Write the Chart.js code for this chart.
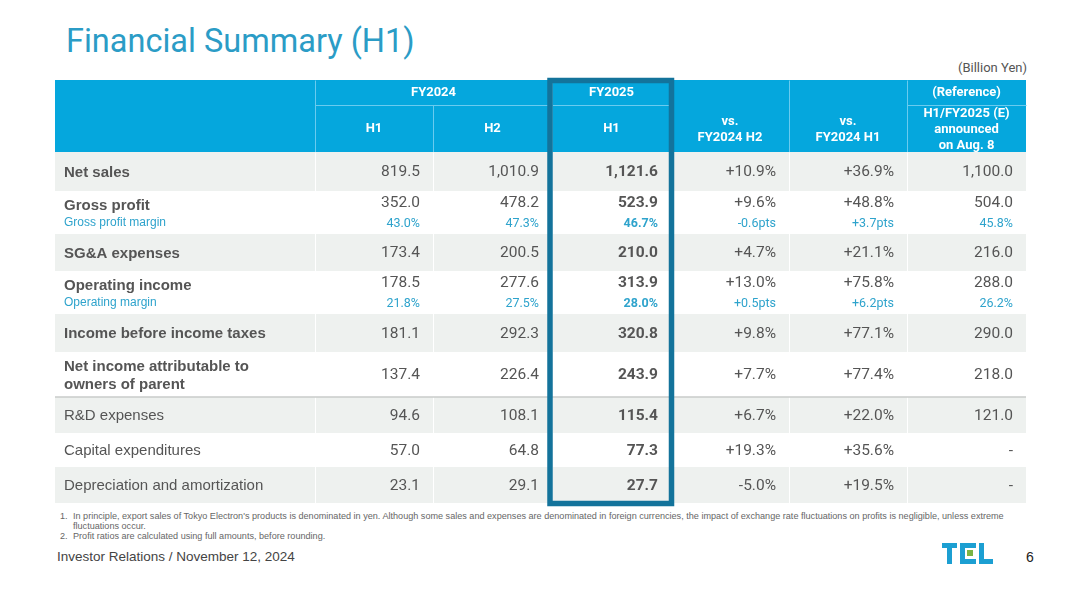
<!DOCTYPE html>
<html><head><meta charset="utf-8">
<script src="https://cdn.jsdelivr.net/npm/chart.js@4.4.1/dist/chart.umd.min.js"></script>
<style>
html,body{margin:0;padding:0;background:#fff;width:1080px;height:593px;overflow:hidden}
.abs{position:absolute;white-space:nowrap}
#title{left:66px;top:22px;font:32.5px Roboto,sans-serif;color:#2b9cc6}
#unit{right:53px;top:60px;font:13px Roboto,sans-serif;color:#555}
#notes{left:60px;top:511px;font:9.1px "Liberation Sans",Arial,sans-serif;color:#666;line-height:10px}
#notes .n{display:inline-block;width:13px}
#footer{left:57px;top:549px;font:13.5px "Liberation Sans",Arial,sans-serif;color:#444}
#page{left:1026px;top:549px;font:14px "Liberation Sans",Arial,sans-serif;color:#222}
#cv{position:absolute;left:52px;top:76px}
.lg{position:absolute;background:#1c9fd2}
</style></head>
<body>
<div id="title" class="abs">Financial Summary (H1)</div>
<div id="unit" class="abs">(Billion Yen)</div>
<canvas id="cv" width="978" height="434"></canvas>
<div id="notes" class="abs">
<div><span class="n">1.</span>In principle, export sales of Tokyo Electron's products is denominated in yen. Although some sales and expenses are denominated in foreign currencies, the impact of exchange rate fluctuations on profits is negligible, unless extreme</div>
<div><span class="n"></span>fluctuations occur.</div>
<div><span class="n">2.</span>Profit ratios are calculated using full amounts, before rounding.</div>
</div>
<div id="footer" class="abs">Investor Relations / November 12, 2024</div>
<div id="page" class="abs">6</div>
<!-- TEL logo -->
<div class="lg" style="left:942px;top:543px;width:15px;height:5px"></div>
<div class="lg" style="left:947px;top:543px;width:5px;height:21px"></div>
<div class="lg" style="left:960px;top:543px;width:5px;height:21px"></div>
<div class="lg" style="left:960px;top:543px;width:16px;height:5px"></div>
<div class="lg" style="left:960px;top:559px;width:16px;height:5px"></div>
<div class="lg" style="left:967px;top:550px;width:6px;height:6px;background:#7bb443"></div>
<div class="lg" style="left:979px;top:543px;width:5px;height:21px"></div>
<div class="lg" style="left:979px;top:559px;width:14px;height:5px"></div>
<script>
// ---- data ----
const rowLabels = ['Net sales','Gross profit','SG&A expenses','Operating income','Income before income taxes',
  'Net income attributable to\nowners of parent','R&D expenses','Capital expenditures','Depreciation and amortization'];
const marginLabels = [null,'Gross profit margin',null,'Operating margin',null,null,null,null,null];
const fy24H1 = [819.5,352.0,173.4,178.5,181.1,137.4,94.6,57.0,23.1];
const fy24H2 = [1010.9,478.2,200.5,277.6,292.3,226.4,108.1,64.8,29.1];
const fy25H1 = [1121.6,523.9,210.0,313.9,320.8,243.9,115.4,77.3,27.7];
const vsH2   = [10.9,9.6,4.7,13.0,9.8,7.7,6.7,19.3,-5.0];
const vsH1   = [36.9,48.8,21.1,75.8,77.1,77.4,22.0,35.6,19.5];
const refE   = [1100.0,504.0,216.0,288.0,290.0,218.0,121.0,null,null];
const grossMargin = [43.0,47.3,46.7,-0.6,3.7,45.8];
const opMargin    = [21.8,27.5,28.0,0.5,6.2,26.2];
const headTop = ['FY2024',null,'FY2025',null,null,'(Reference)'];
const headSub = ['H1','H2','H1','vs.\nFY2024 H2','vs.\nFY2024 H1','H1/FY2025 (E)\nannounced\non Aug. 8'];
const memoFrom = 6; // rows from here are plain memo items

// ---- layout (table units = px inside the table) ----
const colEdges = [0,260,378,497,616,734,852,971];
const rowEdges = [72,111,154,191,234,272,317,353,387,423];
const headSplit = 25, headBottom = 72;
const box = {x0:495,x1:616.5,y0:0.5,y1:423.5};
const C = {head:'#05a7dd', headLine:'#6acbef', grey:'#eef1ef', text:'#555', blue:'#2ea3cc', box:'#13739b', sep:'#c9cbca'};
const F = {num:'Roboto, sans-serif', lab:'"Liberation Sans", Arial, sans-serif'};

const f1 = v => v.toLocaleString('en-US',{minimumFractionDigits:1,maximumFractionDigits:1});
const pct = v => (v>=0?'+':'')+v.toFixed(1)+'%';
const pts = v => (v>=0?'+':'')+v.toFixed(1)+'pts';

const tablePlugin = {
  id:'table',
  afterDraw(chart){
    const c = chart.ctx, X = v => chart.scales.x.getPixelForValue(v), Y = v => chart.scales.y.getPixelForValue(v);
    c.save();
    // header
    c.fillStyle = C.head;
    c.fillRect(X(0),Y(0),X(971)-X(0),Y(headBottom)-Y(0));
    c.strokeStyle = C.headLine; c.lineWidth = 1;
    const hl = (x0,y0,x1,y1)=>{c.beginPath();c.moveTo(Math.round(X(x0))+.5,Math.round(Y(y0))+.5);c.lineTo(Math.round(X(x1))+.5,Math.round(Y(y1))+.5);c.stroke();};
    [1,3,4,5,6].forEach(i=>hl(colEdges[i],0,colEdges[i],headBottom));
    hl(colEdges[2],headSplit,colEdges[2],headBottom);
    hl(colEdges[1],headSplit,colEdges[4],headSplit);
    hl(colEdges[6],headSplit,colEdges[7],headSplit);
    // body rows
    rowLabels.forEach((_,i)=>{
      c.fillStyle = i%2===0 ? C.grey : '#fff';
      c.fillRect(X(0),Y(rowEdges[i]),X(971)-X(0),Y(rowEdges[i+1])-Y(rowEdges[i]));
    });
    c.strokeStyle = '#fff';
    for(let i=1;i<7;i++) hl(colEdges[i],headBottom,colEdges[i],423);
    c.strokeStyle = C.sep; c.lineWidth = 1.5;
    c.beginPath(); c.moveTo(X(0),Y(rowEdges[memoFrom])); c.lineTo(X(971),Y(rowEdges[memoFrom])); c.stroke();

    // header text
    c.fillStyle = '#fff'; c.textAlign = 'center'; c.textBaseline = 'middle';
    c.font = 'bold 13px Roboto, sans-serif';
    const mid = i => (X(colEdges[i])+X(colEdges[i+1]))/2;
    c.fillText(headTop[0],(X(colEdges[1])+X(colEdges[3]))/2,Y(13));
    c.fillText(headTop[2],mid(3),Y(13));
    c.fillText(headTop[5],mid(6),Y(13));
    headSub.forEach((t,k)=>{
      const lines = t.split('\n'), cy = lines.length>1 ? 50 : 49;
      lines.forEach((s,j)=>c.fillText(s,mid(k+1),Y(cy+(j-(lines.length-1)/2)*16)));
    });

    // body text
    const cols = [fy24H1,fy24H2,fy25H1,vsH2,vsH1,refE];
    rowLabels.forEach((lab,i)=>{
      const top = rowEdges[i], bot = rowEdges[i+1], cyv = (top+bot)/2;
      const hasM = marginLabels[i] !== null;
      // label
      c.textAlign = 'left'; c.fillStyle = C.text;
      c.font = (i<memoFrom?'bold ':'')+'15px '+F.lab;
      const ls = lab.split('\n');
      if(hasM){
        c.fillText(lab,X(9),Y(top+15));
        c.fillStyle = C.blue; c.font = '12px '+F.lab;
        c.fillText(marginLabels[i],X(9),Y(top+31.5));
      } else {
        ls.forEach((s,j)=>c.fillText(s,X(9),Y(cyv+1+(j-(ls.length-1)/2)*18)));
      }
      // values
      c.textAlign = 'right';
      cols.forEach((arr,k)=>{
        const v = arr[i];
        const txt = v===null ? '-' : (k===3||k===4 ? pct(v) : f1(v));
        c.fillStyle = C.text;
        c.font = (k===2?'bold ':'')+'15.5px '+F.num;
        c.fillText(txt,X(colEdges[k+2]-13),Y(hasM ? top+12 : cyv+1));
        if(hasM){
          const m = i===1 ? grossMargin : opMargin;
          const mt = (k===3||k===4) ? pts(m[k]) : m[k].toFixed(1)+'%';
          c.fillStyle = C.blue;
          c.font = (k===2?'bold ':'')+'12.5px '+F.num;
          c.fillText(mt,X(colEdges[k+2]-13),Y(top+33));
        }
      });
    });

    // FY2025 highlight box
    c.strokeStyle = C.box; c.lineWidth = 5.5;
    c.strokeRect(X(box.x0),Y(box.y0),X(box.x1)-X(box.x0),Y(box.y1)-Y(box.y0));
    c.restore();
  }
};

new Chart(document.getElementById('cv'),{
  type:'scatter',
  data:{datasets:[]},
  options:{
    responsive:false, animation:false,
    layout:{padding:{left:3,right:4,top:4,bottom:7}},
    plugins:{legend:{display:false},tooltip:{enabled:false}},
    scales:{
      x:{type:'linear',min:0,max:971,display:false},
      y:{type:'linear',min:0,max:423,reverse:true,display:false}
    }
  },
  plugins:[tablePlugin]
});
</script>
</body></html>
